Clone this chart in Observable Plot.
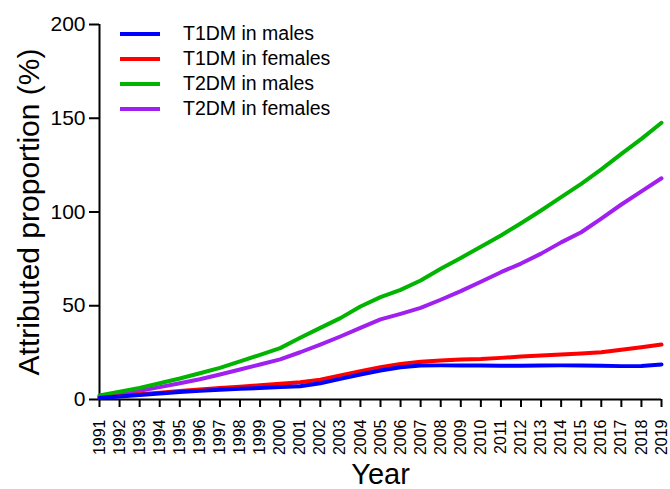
<!DOCTYPE html>
<html>
<head>
<meta charset="utf-8">
<script src="https://cdn.jsdelivr.net/npm/d3@7"></script>
<script src="https://cdn.jsdelivr.net/npm/@observablehq/plot@0.6"></script>
<style>
  html, body { margin: 0; padding: 0; background: #fff; }
  #chart { position: relative; width: 670px; height: 489px; font-family: "Liberation Sans", Arial, sans-serif; }
  .legend { position: absolute; left: 120px; top: 21px; }
  .legend .row { position: absolute; left: 0; height: 25px; width: 260px; white-space: nowrap; }
  .legend .swatch { position: absolute; left: 0; top: 11px; width: 40px; height: 4px; }
  .legend .name { position: absolute; left: 63px; top: 1px; font-size: 19.5px; color: #000; line-height: 22px; }
</style>
</head>
<body>
<div id="chart"></div>
<script>
// Years on the x axis
const years = d3.range(1991, 2020);

// Attributed proportion (%) for each series, 1991–2019
const t1dmMales = [0.8, 1.6, 2.4, 3.2, 4.0, 4.6, 5.2, 5.7, 6.1, 6.6, 7.1, 8.7, 11.0, 13.3, 15.5, 17.2, 18.1, 18.2, 18.2, 18.1, 18.0, 18.0, 18.1, 18.2, 18.1, 18.0, 17.8, 17.9, 18.7];
const t1dmFemales = [1.0, 1.8, 2.8, 3.6, 4.5, 5.3, 6.1, 6.8, 7.6, 8.4, 9.2, 10.5, 12.8, 15.1, 17.2, 19.0, 20.1, 20.8, 21.3, 21.6, 22.2, 22.9, 23.5, 24.0, 24.5, 25.2, 26.5, 27.9, 29.3];
const t2dmMales = [2.1, 4.1, 6.2, 8.7, 11.2, 14.0, 16.9, 20.3, 23.8, 27.4, 32.9, 38.2, 43.4, 49.6, 54.6, 58.5, 63.5, 69.7, 75.5, 81.5, 87.5, 94.0, 100.8, 107.9, 115.0, 122.7, 131.0, 139.0, 147.6];
const t2dmFemales = [1.6, 3.0, 4.6, 6.6, 8.7, 10.8, 13.3, 16.0, 18.7, 21.4, 25.2, 29.3, 33.6, 38.2, 42.7, 45.7, 48.9, 53.2, 57.8, 62.8, 67.9, 72.5, 77.8, 83.8, 89.2, 96.5, 104.0, 111.0, 118.0];

const seriesNames = ["T1DM in males", "T1DM in females", "T2DM in males", "T2DM in females"];
const seriesColors = ["#0000ff", "#ff0000", "#00b400", "#a020f0"];
const yTicks = [0, 50, 100, 150, 200];

// Long-format table; drawing order puts the blue line on top
const drawOrder = [3, 2, 1, 0];
const seriesValues = [t1dmMales, t1dmFemales, t2dmMales, t2dmFemales];
const rows = drawOrder.flatMap(i => years.map((year, j) => ({year, value: seriesValues[i][j], series: seriesNames[i]})));

const plot = Plot.plot({
  width: 670,
  height: 489,
  marginLeft: 99,
  marginRight: 9,
  marginTop: 24,
  marginBottom: 90,
  style: {fontFamily: "'Liberation Sans', Arial, sans-serif", color: "#000", background: "#fff"},
  x: {domain: [1991, 2019]},
  y: {domain: [0, 200]},
  color: {domain: seriesNames, range: seriesColors},
  marks: [
    Plot.axisY({ticks: yTicks, tickSize: 10, tickPadding: 4, fontSize: 21, strokeWidth: 2, label: null}),
    Plot.axisX({ticks: years, tickSize: 8, tickPadding: 12, tickRotate: -90, fontSize: 16, strokeWidth: 2, tickFormat: d => String(d), label: null}),
    Plot.ruleX([1991], {strokeWidth: 2}),
    Plot.ruleY([0], {strokeWidth: 2}),
    Plot.line(rows, {x: "year", y: "value", z: "series", stroke: "series", strokeWidth: 4}),
    Plot.text(["Attributed proportion (%)"], {frameAnchor: "left", textAnchor: "middle", dx: -70, rotate: -90, fontSize: 30, fill: "#000"}),
    Plot.text(["Year"], {frameAnchor: "bottom", lineAnchor: "bottom", dy: 84, fontSize: 29, fill: "#000"})
  ]
});

const chart = document.getElementById("chart");
chart.appendChild(plot);

// Legend inside the upper-left corner of the plot area
const legend = document.createElement("div");
legend.className = "legend";
seriesNames.forEach((name, i) => {
  const row = document.createElement("div");
  row.className = "row";
  row.style.top = `${i * 25}px`;
  const sw = document.createElement("span");
  sw.className = "swatch";
  sw.style.background = seriesColors[i];
  const label = document.createElement("span");
  label.className = "name";
  label.textContent = name;
  row.appendChild(sw);
  row.appendChild(label);
  legend.appendChild(row);
});
chart.appendChild(legend);
</script>
</body>
</html>
